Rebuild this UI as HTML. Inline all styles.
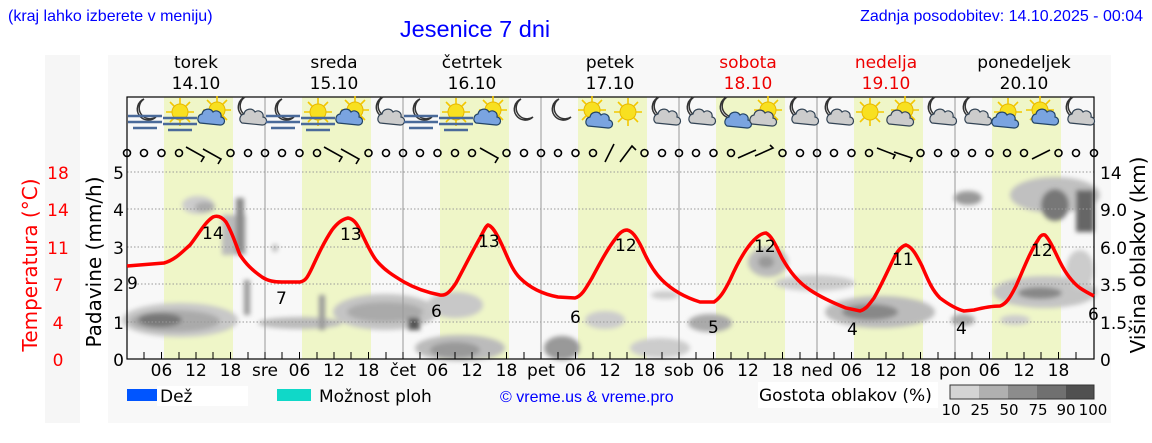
<!DOCTYPE html>
<html><head><meta charset="utf-8"><style>
body{margin:0;background:#fff;}
svg{display:block;font-family:"DejaVu Sans","Liberation Sans",sans-serif;}
</style></head><body>
<svg width="1152" height="443" viewBox="0 0 1152 443" xmlns="http://www.w3.org/2000/svg">
<defs>
<filter id="bl" x="-50%" y="-50%" width="200%" height="200%"><feGaussianBlur stdDeviation="2.5"/></filter>
<g id="moon"><path d="M-3,-13 A11,11 0 1,0 9,5 A9,9 0 0,1 -3,-13 Z" fill="#fff" stroke="#333" stroke-width="1.5"/></g>
<g id="sun"><g stroke="#f4c800" stroke-width="1.6"><line x1="0" y1="-14" x2="0" y2="14"/><line x1="-14" y1="0" x2="14" y2="0"/><line x1="-10" y1="-10" x2="10" y2="10"/><line x1="-10" y1="10" x2="10" y2="-10"/></g><circle r="8" fill="#f8e020" stroke="#e8b800"/></g>
<g id="cloud"><path d="M-10,6 a5,5 0 0,1 2,-9 a6,6 0 0,1 11,-2 a5,5 0 0,1 8,5 a4,4 0 0,1 -1,8 z" fill="#ccc" stroke="#345" stroke-width="1.2"/></g>
<g id="bcloud"><path d="M-10,6 a5,5 0 0,1 2,-9 a6,6 0 0,1 11,-2 a5,5 0 0,1 8,5 a4,4 0 0,1 -1,8 z" fill="#7aa4e0" stroke="#246" stroke-width="1.2"/></g>
<g id="fog"><g stroke="#4a6a9a" stroke-width="2.5"><line x1="-17" y1="-2" x2="17" y2="-2"/><line x1="-17" y1="4" x2="17" y2="4"/><line x1="-12" y1="10" x2="12" y2="10"/></g></g>
</defs>
<rect x="45" y="55" width="35" height="368" fill="#f6f6f6"/>
<rect x="108" y="55" width="1003" height="368" fill="#f8f8f8"/>
<g fill="#eff6c8">
<rect x="164" y="97" width="69" height="262"/><rect x="302" y="97" width="69" height="262"/><rect x="440" y="97" width="69" height="262"/>
<rect x="578" y="97" width="69" height="262"/><rect x="716" y="97" width="69" height="262"/><rect x="854" y="97" width="69" height="262"/><rect x="992" y="97" width="69" height="262"/>
</g>
<g filter="url(#bl)">
<ellipse cx="180" cy="320" rx="58" ry="17" fill="#c8c8c8"/><ellipse cx="175" cy="321" rx="45" ry="11" fill="#aaa"/><ellipse cx="160" cy="320" rx="22" ry="7" fill="#777"/>
<ellipse cx="198" cy="205" rx="16" ry="9" fill="#ccc"/><ellipse cx="205" cy="207" rx="10" ry="5" fill="#aaa"/>
<rect x="222" y="215" width="24" height="40" fill="#bbb"/><rect x="236" y="198" width="8" height="55" fill="#888"/>
<rect x="244" y="280" width="6" height="35" fill="#999"/><ellipse cx="300" cy="323" rx="42" ry="6" fill="#bbb"/>
<ellipse cx="275" cy="248" rx="3" ry="4" fill="#bbb"/><rect x="319" y="295" width="6" height="35" fill="#999"/>
<ellipse cx="385" cy="312" rx="52" ry="18" fill="#c4c4c4"/><ellipse cx="385" cy="312" rx="38" ry="10" fill="#aaa"/><rect x="408" y="318" width="12" height="12" fill="#555"/>
<ellipse cx="460" cy="348" rx="45" ry="13" fill="#bbb"/><ellipse cx="455" cy="350" rx="25" ry="8" fill="#999"/><ellipse cx="455" cy="305" rx="28" ry="13" fill="#c8c8c8"/>
<ellipse cx="562" cy="348" rx="18" ry="12" fill="#999"/><ellipse cx="605" cy="320" rx="20" ry="9" fill="#ccc"/>
<ellipse cx="660" cy="348" rx="30" ry="10" fill="#ccc"/><ellipse cx="665" cy="295" rx="14" ry="4" fill="#ccc"/>
<ellipse cx="710" cy="323" rx="22" ry="9" fill="#aaa"/><ellipse cx="768" cy="262" rx="20" ry="15" fill="#bbb"/><ellipse cx="766" cy="262" rx="8" ry="6" fill="#999"/>
<ellipse cx="815" cy="283" rx="40" ry="8" fill="#ccc"/><ellipse cx="880" cy="312" rx="55" ry="16" fill="#bbb"/><ellipse cx="870" cy="312" rx="28" ry="8" fill="#888"/>
<ellipse cx="963" cy="320" rx="12" ry="6" fill="#aaa"/><ellipse cx="968" cy="198" rx="14" ry="7" fill="#999"/>
<ellipse cx="1045" cy="292" rx="52" ry="16" fill="#c4c4c4"/><ellipse cx="1040" cy="293" rx="22" ry="6" fill="#888"/>
<ellipse cx="1055" cy="195" rx="45" ry="18" fill="#c0c0c0"/><ellipse cx="1055" cy="205" rx="14" ry="16" fill="#777"/><rect x="1076" y="190" width="18" height="42" fill="#666"/>
<ellipse cx="1015" cy="320" rx="15" ry="5" fill="#ccc"/><ellipse cx="1080" cy="270" rx="14" ry="20" fill="#ccc"/>
</g>
<g stroke="#999" stroke-dasharray="1.5,2" stroke-width="1">
<line x1="127" y1="172" x2="1094" y2="172"/><line x1="127" y1="209" x2="1094" y2="209"/><line x1="127" y1="247" x2="1094" y2="247"/><line x1="127" y1="284" x2="1094" y2="284"/><line x1="127" y1="322" x2="1094" y2="322"/>
</g>
<g stroke="#999" stroke-width="1">
<line x1="265" y1="97" x2="265" y2="359"/><line x1="403" y1="97" x2="403" y2="359"/><line x1="541" y1="97" x2="541" y2="359"/><line x1="679" y1="97" x2="679" y2="359"/><line x1="817" y1="97" x2="817" y2="359"/><line x1="955" y1="97" x2="955" y2="359"/>
</g>
<rect x="127" y="97" width="967" height="262" fill="none" stroke="#000" stroke-width="1.2"/>
<g stroke="#000" stroke-width="1">
<path d="M144,359v-7M161.5,359v-7M179,359v-7M196,359v-7M213,359v-7M230.5,359v-7M248,359v-7M265,359v-7M282,359v-7M299.5,359v-7M317,359v-7M334,359v-7M351,359v-7M368.5,359v-7M386,359v-7M403,359v-7M420,359v-7M437.5,359v-7M455,359v-7M472,359v-7M489,359v-7M506.5,359v-7M524,359v-7M541,359v-7M558,359v-7M575.5,359v-7M593,359v-7M610,359v-7M627,359v-7M644.5,359v-7M662,359v-7M679,359v-7M696,359v-7M713.5,359v-7M731,359v-7M748,359v-7M765,359v-7M782.5,359v-7M800,359v-7M817,359v-7M834,359v-7M851.5,359v-7M869,359v-7M886,359v-7M903,359v-7M920.5,359v-7M938,359v-7M955,359v-7M972,359v-7M989.5,359v-7M1007,359v-7M1024,359v-7M1041,359v-7M1058.5,359v-7M1076,359v-7"/>
</g>
<g>
<use href="#moon" x="147" y="112"/><use href="#fog" x="145" y="118"/>
<use href="#sun" x="180" y="112"/><use href="#fog" x="180" y="120"/>
<use href="#sun" x="217" y="110"/><use href="#bcloud" x="210" y="117"/>
<use href="#moon" x="248" y="110"/><use href="#cloud" x="252" y="117"/>
<use href="#moon" x="285" y="112"/><use href="#fog" x="283" y="118"/>
<use href="#sun" x="318" y="112"/><use href="#fog" x="318" y="120"/>
<use href="#sun" x="355" y="110"/><use href="#bcloud" x="348" y="117"/>
<use href="#moon" x="386" y="110"/><use href="#cloud" x="390" y="117"/>
<use href="#moon" x="423" y="112"/><use href="#fog" x="421" y="118"/>
<use href="#sun" x="456" y="112"/><use href="#fog" x="456" y="120"/>
<use href="#sun" x="493" y="110"/><use href="#bcloud" x="486" y="117"/>
<use href="#moon" x="524" y="112"/>
<use href="#moon" x="562" y="112"/>
<use href="#sun" x="592" y="110"/><use href="#bcloud" x="598" y="120"/>
<use href="#sun" x="628" y="112"/>
<use href="#moon" x="662" y="110"/><use href="#cloud" x="666" y="117"/>
<use href="#moon" x="697" y="110"/><use href="#cloud" x="701" y="117"/>
<use href="#moon" x="730" y="110"/><use href="#bcloud" x="737" y="120"/>
<use href="#sun" x="768" y="110"/><use href="#cloud" x="762" y="118"/>
<use href="#moon" x="800" y="110"/><use href="#cloud" x="804" y="117"/>
<use href="#moon" x="835" y="110"/><use href="#cloud" x="839" y="117"/>
<use href="#sun" x="870" y="112"/>
<use href="#sun" x="905" y="110"/><use href="#cloud" x="899" y="118"/>
<use href="#moon" x="938" y="110"/><use href="#cloud" x="942" y="117"/>
<use href="#moon" x="973" y="110"/><use href="#cloud" x="977" y="117"/>
<use href="#sun" x="1008" y="112"/><use href="#bcloud" x="1004" y="120"/>
<use href="#sun" x="1040" y="110"/><use href="#bcloud" x="1044" y="117"/>
<use href="#moon" x="1076" y="110"/><use href="#cloud" x="1080" y="117"/>
</g>
<g fill="none" stroke="#000" stroke-width="1.6">
<circle cx="127" cy="153" r="3.5"/><circle cx="144" cy="153" r="3.5"/><circle cx="161.5" cy="153" r="3.5"/><circle cx="179" cy="153" r="3.5"/><circle cx="230.5" cy="153" r="3.5"/><circle cx="248" cy="153" r="3.5"/>
<circle cx="265" cy="153" r="3.5"/><circle cx="282" cy="153" r="3.5"/><circle cx="299.5" cy="153" r="3.5"/><circle cx="317" cy="153" r="3.5"/><circle cx="368.5" cy="153" r="3.5"/><circle cx="386" cy="153" r="3.5"/>
<circle cx="403" cy="153" r="3.5"/><circle cx="420" cy="153" r="3.5"/><circle cx="437.5" cy="153" r="3.5"/><circle cx="455" cy="153" r="3.5"/><circle cx="472" cy="153" r="3.5"/><circle cx="506.5" cy="153" r="3.5"/><circle cx="524" cy="153" r="3.5"/>
<circle cx="541" cy="153" r="3.5"/><circle cx="558" cy="153" r="3.5"/><circle cx="575.5" cy="153" r="3.5"/><circle cx="593" cy="153" r="3.5"/><circle cx="644.5" cy="153" r="3.5"/><circle cx="662" cy="153" r="3.5"/>
<circle cx="679" cy="153" r="3.5"/><circle cx="696" cy="153" r="3.5"/><circle cx="713.5" cy="153" r="3.5"/><circle cx="731" cy="153" r="3.5"/><circle cx="782.5" cy="153" r="3.5"/><circle cx="800" cy="153" r="3.5"/>
<circle cx="817" cy="153" r="3.5"/><circle cx="834" cy="153" r="3.5"/><circle cx="851.5" cy="153" r="3.5"/><circle cx="869" cy="153" r="3.5"/><circle cx="920.5" cy="153" r="3.5"/><circle cx="938" cy="153" r="3.5"/>
<circle cx="955" cy="153" r="3.5"/><circle cx="972" cy="153" r="3.5"/><circle cx="989.5" cy="153" r="3.5"/><circle cx="1007" cy="153" r="3.5"/><circle cx="1024" cy="153" r="3.5"/><circle cx="1058.5" cy="153" r="3.5"/><circle cx="1076" cy="153" r="3.5"/><circle cx="1094" cy="153" r="3.5"/>
<path d="M186,147l18,10l-3,5M203,149l18,10l-3,5M324,147l18,10l-3,5M341,149l18,10l-3,5M480,148l18,10l-3,5M605,162l9,-18M620,162l12,-16l4,4M738,158l18,-8M755,156l18,-8l-3,-3M877,148l18,7l-2,4M894,152l18,6l-2,4M1032,159l18,-9"/>
</g>
<path d="M127,266 L164,263 C175,260 182,252 190,245 C198,235 205,222 213,217 C218,215 222,217 226,222 C232,232 236,245 240,255 C246,264 252,270 262,277 C268,281 274,282 282,282 L300,282 C306,281 308,276 312,268 C318,255 324,242 332,230 C338,222 343,219 348,218 C353,219 356,222 360,230 C366,242 370,252 376,260 C384,270 394,276 404,282 C418,290 430,293 440,295 C446,296 450,292 456,283 C464,268 472,252 480,238 C484,230 486,226 488,225 C492,226 496,232 502,245 C508,258 512,270 520,278 C530,288 542,294 558,297 L575,298 C582,296 586,288 592,278 C600,263 608,248 616,238 C620,232 624,230 627,230 C632,231 636,236 642,248 C648,262 654,272 662,280 C672,290 684,297 700,302 L714,302 C720,298 724,292 730,280 C738,262 746,248 754,240 C758,236 762,233 766,233 C772,236 776,246 782,258 C790,272 798,282 810,290 C822,298 836,304 846,308 L860,311 C866,309 868,306 874,298 C882,284 888,270 894,258 C898,250 902,246 906,245 C912,247 916,254 922,266 C928,280 932,290 940,298 C948,304 956,309 964,311 L974,310 C986,307 994,306 1000,306 C1006,304 1010,298 1016,286 C1024,268 1030,252 1038,240 C1040,236 1042,234 1045,235 C1050,240 1054,250 1060,262 C1066,274 1072,282 1080,288 C1086,292 1090,294 1094,296" fill="none" stroke="#f00" stroke-width="3.5"/>
<g font-size="17" fill="#000">
<text x="127" y="289">9</text><text x="202" y="239">14</text><text x="276" y="304">7</text><text x="340" y="240">13</text>
<text x="431" y="317">6</text><text x="478" y="247">13</text><text x="570" y="323">6</text><text x="615" y="251">12</text>
<text x="708" y="333">5</text><text x="754" y="252">12</text><text x="847" y="335">4</text><text x="892" y="265">11</text>
<text x="956" y="334">4</text><text x="1031" y="256">12</text><text x="1088" y="320">6</text>
</g>
<g font-size="17" fill="#f00" text-anchor="middle">
<text x="58" y="179">18</text><text x="58" y="216">14</text><text x="58" y="254">11</text><text x="58" y="291">7</text><text x="58" y="329">4</text><text x="58" y="366">0</text>
</g>
<g font-size="17" fill="#000" text-anchor="end">
<text x="124" y="179">5</text><text x="124" y="216">4</text><text x="124" y="254">3</text><text x="124" y="291">2</text><text x="124" y="329">1</text><text x="124" y="366">0</text>
</g>
<g font-size="17" fill="#000">
<text x="1100" y="179">14</text><text x="1100" y="216">9.0</text><text x="1100" y="254">6.0</text><text x="1100" y="291">3.5</text><text x="1100" y="329">1.5</text><text x="1100" y="366">0</text>
</g>
<text transform="translate(37,265) rotate(-90)" font-size="20" fill="#f00" text-anchor="middle">Temperatura (°C)</text>
<text transform="translate(101,262) rotate(-90)" font-size="20" fill="#000" text-anchor="middle">Padavine (mm/h)</text>
<text transform="translate(1145,255) rotate(-90)" font-size="20" fill="#000" text-anchor="middle">Višina oblakov (km)</text>
<g font-size="17" fill="#000" text-anchor="middle">
<text x="161.5" y="376">06</text><text x="196" y="376">12</text><text x="230.5" y="376">18</text><text x="265" y="376">sre</text>
<text x="299.5" y="376">06</text><text x="334" y="376">12</text><text x="368.5" y="376">18</text><text x="403" y="376">čet</text>
<text x="437.5" y="376">06</text><text x="472" y="376">12</text><text x="506.5" y="376">18</text><text x="541" y="376">pet</text>
<text x="575.5" y="376">06</text><text x="610" y="376">12</text><text x="644.5" y="376">18</text><text x="679" y="376">sob</text>
<text x="713.5" y="376">06</text><text x="748" y="376">12</text><text x="782.5" y="376">18</text><text x="817" y="376">ned</text>
<text x="851.5" y="376">06</text><text x="886" y="376">12</text><text x="920.5" y="376">18</text><text x="955" y="376">pon</text>
<text x="989.5" y="376">06</text><text x="1024" y="376">12</text><text x="1058.5" y="376">18</text>
</g>
<g font-size="17" text-anchor="middle" fill="#000">
<text x="196" y="68">torek</text><text x="196" y="89">14.10</text>
<text x="334" y="68">sreda</text><text x="334" y="89">15.10</text>
<text x="472" y="68">četrtek</text><text x="472" y="89">16.10</text>
<text x="610" y="68">petek</text><text x="610" y="89">17.10</text>
<text x="748" y="68" fill="#e00">sobota</text><text x="748" y="89" fill="#e00">18.10</text>
<text x="886" y="68" fill="#e00">nedelja</text><text x="886" y="89" fill="#e00">19.10</text>
<text x="1024" y="68">ponedeljek</text><text x="1024" y="89">20.10</text>
</g>
<text x="8" y="21" font-family="Liberation Sans" font-size="16" fill="#00f">(kraj lahko izberete v meniju)</text>
<text x="475" y="37" font-family="Liberation Sans" font-size="23.5" fill="#00f" text-anchor="middle">Jesenice 7 dni</text>
<text x="1143" y="21" font-family="Liberation Sans" font-size="16" fill="#00f" text-anchor="end">Zadnja posodobitev: 14.10.2025 - 00:04</text>
<rect x="127" y="389" width="34" height="12" fill="#0055ff"/>
<rect x="157" y="386" width="91" height="20" fill="#fff"/>
<text x="160" y="402" font-size="17">Dež</text>
<rect x="277" y="389" width="34" height="12" fill="#10d8c8"/>
<text x="319" y="402" font-size="17">Možnost ploh</text>
<text x="500" y="402" font-family="Liberation Sans" font-size="16" fill="#00f">© vreme.us &amp; vreme.pro</text>
<rect x="758" y="382" width="180" height="26" fill="#fff"/>
<text x="759" y="401" font-size="17">Gostota oblakov (%)</text>
<rect x="950" y="385" width="29" height="14" fill="#d4d4d4"/><rect x="979" y="385" width="29" height="14" fill="#b0b0b0"/><rect x="1008" y="385" width="29" height="14" fill="#8c8c8c"/><rect x="1037" y="385" width="29" height="14" fill="#707070"/><rect x="1066" y="385" width="28" height="14" fill="#505050"/>
<rect x="950" y="385" width="144" height="14" fill="none" stroke="#333"/>
<g font-size="15" text-anchor="middle"><text x="951" y="415">10</text><text x="980" y="415">25</text><text x="1009" y="415">50</text><text x="1038" y="415">75</text><text x="1066" y="415">90</text><text x="1093" y="415">100</text></g>
</svg>
</body></html>
